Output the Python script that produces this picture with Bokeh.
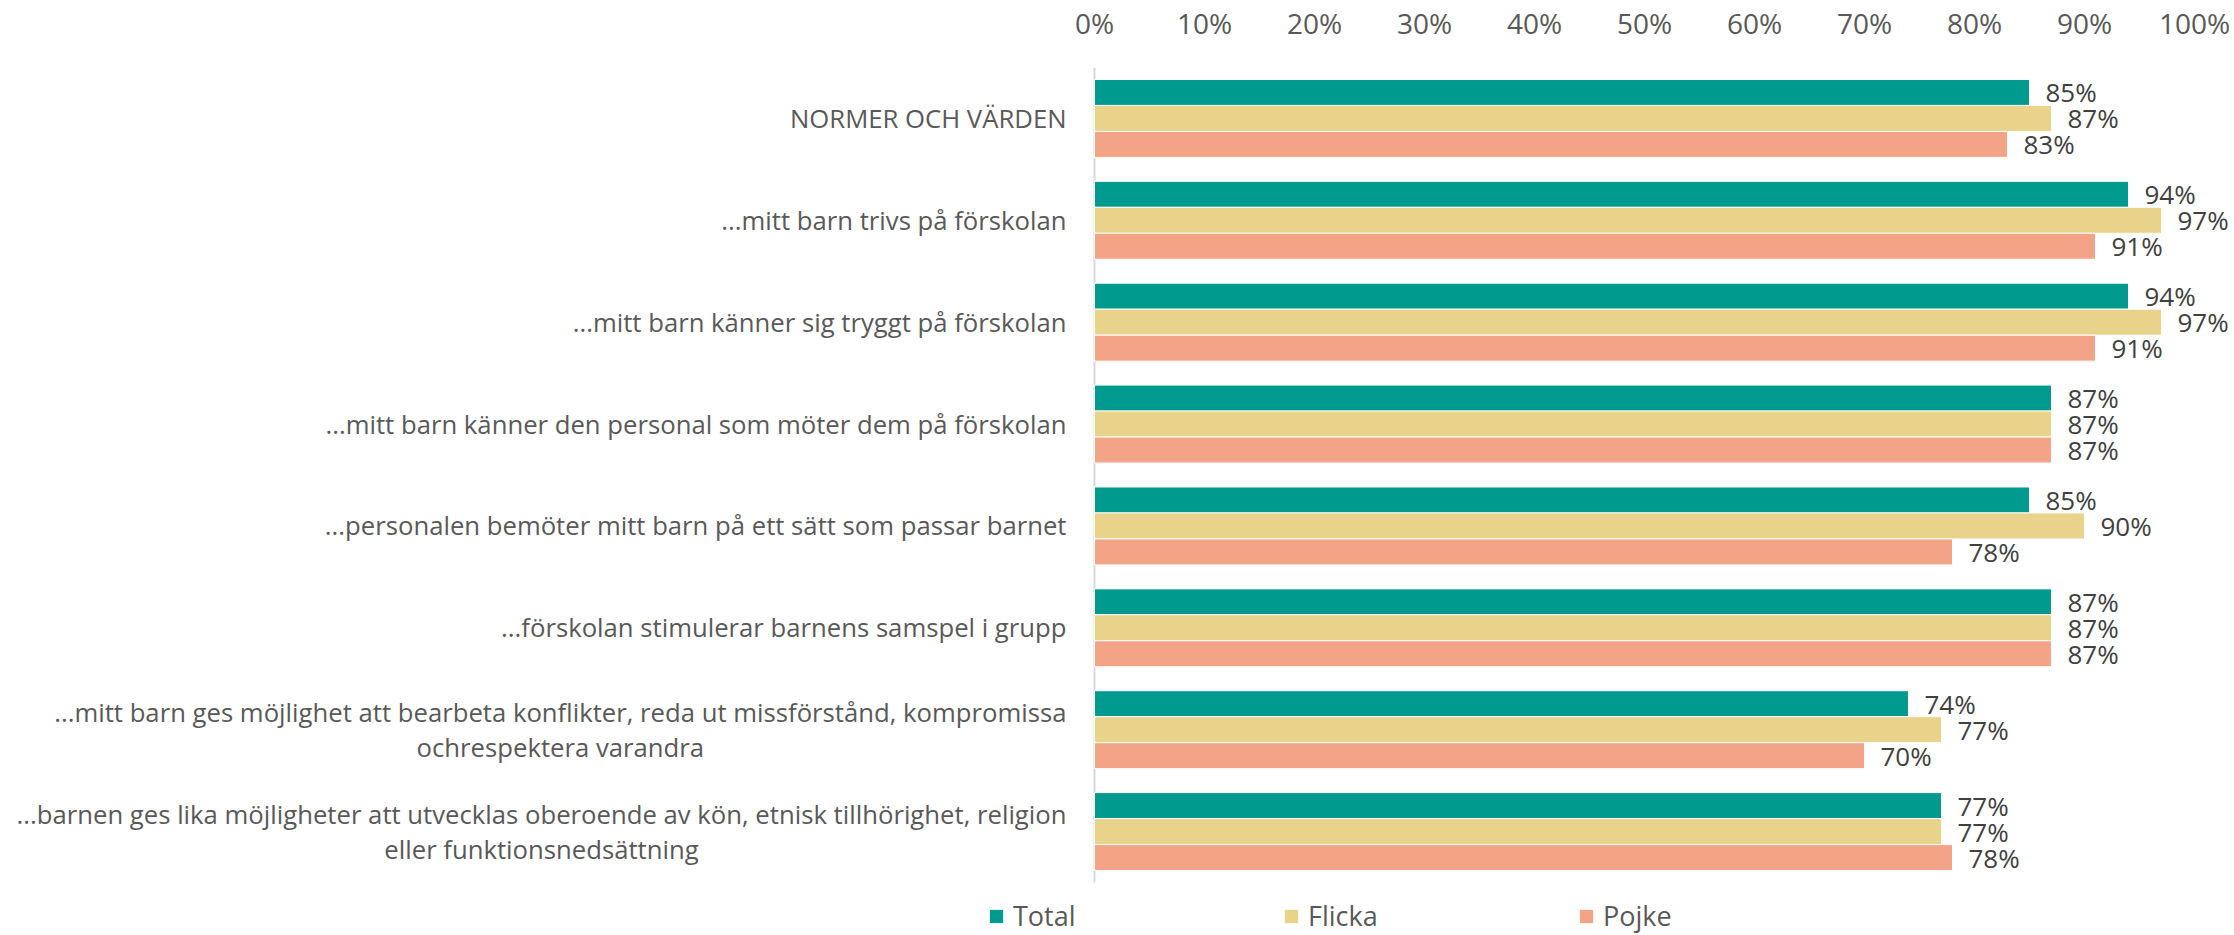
from bokeh.plotting import figure
from bokeh.models import (Range1d, FixedTicker, NumeralTickFormatter,
                          Legend, LegendItem, ColumnDataSource)
from bokeh.transform import dodge
from bokeh.core.properties import value
from bokeh.embed import file_html
from bokeh.resources import INLINE

categories = [
    "NORMER OCH VÄRDEN",
    "...mitt barn trivs på förskolan",
    "...mitt barn känner sig tryggt på förskolan",
    "...mitt barn känner den personal som möter dem på förskolan",
    "...personalen bemöter mitt barn på ett sätt som passar barnet",
    "...förskolan stimulerar barnens samspel i grupp",
    "...mitt barn ges möjlighet att bearbeta konflikter, reda ut missförstånd, kompromissa\nochrespektera varandra",
    "...barnen ges lika möjligheter att utvecklas oberoende av kön, etnisk tillhörighet, religion\neller funktionsnedsättning",
]
series_names = ["Total", "Flicka", "Pojke"]
total = [85, 94, 94, 87, 85, 87, 74, 77]
flicka = [87, 97, 97, 87, 90, 87, 77, 77]
pojke = [83, 91, 91, 87, 78, 87, 70, 78]
tick_values = [0, 10, 20, 30, 40, 50, 60, 70, 80, 90, 100]

colors = ["#009A8E", "#E9D28A", "#F4A486"]

W, H = 2234, 935
X0_PX, X1_PX = 1094, 2194
unit = X1_PX - X0_PX
TOP, BOTTOM = 67, 882
n = len(categories)
band = (BOTTOM - TOP) / n
ypos = [n - 1 - i for i in range(n)]
y_top = n - 0.5
y_bottom = y_top - (H - TOP) / band

p = figure(width=W, height=H, output_backend="svg", toolbar_location=None,
           x_axis_location="above", y_axis_location=None,
           x_range=Range1d(-X0_PX / unit, 1 + (W - X1_PX) / unit),
           y_range=Range1d(y_bottom, y_top),
           min_border_left=0, min_border_right=0, min_border_top=TOP, min_border_bottom=0)
p.outline_line_color = None
p.xgrid.visible = False
p.ygrid.visible = False
p.background_fill_color = "white"
p.border_fill_color = "white"

ax = p.xaxis[0]
ax.ticker = FixedTicker(ticks=[t / 100 for t in tick_values])
ax.formatter = NumeralTickFormatter(format="0%")
ax.axis_line_color = None
ax.major_tick_line_color = None
ax.minor_tick_line_color = None
ax.major_tick_out = 0
ax.major_tick_in = 0
ax.minor_tick_out = 0
ax.major_label_text_font = "Open Sans"
ax.major_label_text_font_size = "28px"
ax.major_label_text_color = "#595959"
ax.major_label_standoff = 26

# vertical category axis line
p.segment(x0=[0], y0=[-0.5], x1=[0], y1=[y_top], line_color="#D9D9D9", line_width=2)

bar_h = 0.255
offsets = [bar_h, 0.0, -bar_h]
series = [total, flicka, pojke]
items = []
for name, vals, col, off in zip(series_names, series, colors, offsets):
    src = ColumnDataSource(dict(y=ypos, v=[x / 100 for x in vals],
                                lab=[f"{x}%" for x in vals]))
    r = p.hbar(y=dodge("y", off), right="v", left=0, height=bar_h,
               source=src, fill_color=col, line_color="white", line_width=1)
    p.text(x="v", y=dodge("y", off), text="lab", source=src,
           x_offset=16, text_align="left", text_baseline="middle",
           text_font=value("Open Sans"), text_font_size="26px", text_color="#404040")
    items.append(LegendItem(label=name, renderers=[r]))

lab_src = ColumnDataSource(dict(y=ypos, cat=categories, x=[-28 / unit] * n))
p.text(x="x", y="y", text="cat", source=lab_src, anchor=value("center_right"),
       text_align="center", text_baseline="middle", text_line_height=1.0,
       text_font=value("Open Sans"), text_font_size="25.7px", text_color="#595959")

legend = Legend(items=items, orientation="horizontal", location=(987, 1),
                glyph_width=18, glyph_height=18, label_standoff=8, label_width=250,
                spacing=19, padding=0, margin=0, border_line_color=None,
                background_fill_alpha=0,
                label_text_font="Open Sans", label_text_font_size="27px",
                label_text_color="#595959")
p.add_layout(legend)

open("out.html", "w").write(file_html(p, INLINE))
